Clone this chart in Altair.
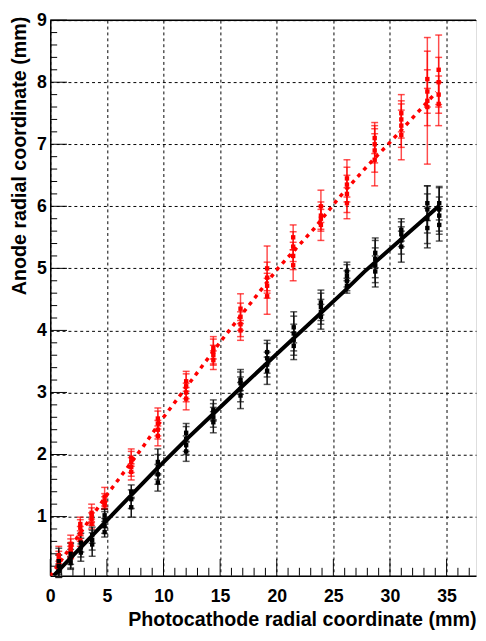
import altair as alt
import pandas as pd

# ---- data ----
# cluster positions (photocathode radial coordinate, mm)
red_cx = [0.75, 1.8, 2.65, 3.65, 4.8, 7.15, 9.5, 12.0, 14.4, 16.8, 19.15, 21.45, 23.9, 26.2, 28.65, 31.0, 33.3, 34.3]
red_y = [
    [0.22, 0.32, 0.38, 0.28], [0.42, 0.50, 0.56, 0.46], [0.62, 0.72, 0.82, 0.88], [0.88, 0.96, 1.02, 1.06],
    [1.18, 1.25, 1.32, 1.22], [1.72, 1.80, 1.88, 1.95], [2.30, 2.40, 2.50, 2.58], [2.90, 3.00, 3.10, 3.18],
    [3.52, 3.60, 3.66, 3.72], [4.00, 4.10, 4.22, 4.35], [4.55, 4.72, 4.85, 5.00], [5.05, 5.20, 5.35, 5.50],
    [5.70, 5.80, 5.85, 6.00], [6.05, 6.20, 6.35, 6.45], [6.75, 6.90, 7.00, 7.10], [7.15, 7.30, 7.40, 7.50],
    [7.60, 7.70, 7.85, 8.05], [7.65, 7.80, 8.00, 8.20],
]
red_err = [
    [0.06, 0.12, 0.14, 0.10], [0.10, 0.14, 0.14, 0.12], [0.10, 0.12, 0.13, 0.11], [0.08, 0.10, 0.12, 0.14],
    [0.06, 0.12, 0.15, 0.10], [0.13, 0.15, 0.17, 0.14], [0.16, 0.15, 0.20, 0.17], [0.18, 0.15, 0.20, 0.16],
    [0.15, 0.16, 0.20, 0.18], [0.16, 0.20, 0.22, 0.24], [0.29, 0.20, 0.25, 0.36], [0.25, 0.22, 0.24, 0.20],
    [0.25, 0.20, 0.22, 0.26], [0.25, 0.30, 0.28, 0.30], [0.42, 0.35, 0.30, 0.25], [0.40, 0.35, 0.30, 0.30],
    [0.30, 1.02, 0.35, 0.45], [0.35, 0.30, 0.40, 0.56],
]
blk_cx = [0.75, 1.8, 2.7, 3.7, 4.8, 7.15, 9.5, 12.0, 14.4, 16.8, 19.15, 21.5, 23.9, 26.2, 28.7, 31.0, 33.3, 34.35]
blk_y = [
    [0.12, 0.20, 0.28], [0.25, 0.32, 0.40], [0.42, 0.50, 0.58], [0.55, 0.62, 0.70],
    [0.75, 0.85, 0.95, 1.02], [1.15, 1.28, 1.40], [1.55, 1.68, 1.80, 1.88], [2.05, 2.15, 2.25, 2.35],
    [2.52, 2.60, 2.68, 2.72], [2.95, 3.05, 3.15, 3.20], [3.35, 3.45, 3.55, 3.65], [3.75, 3.85, 3.95, 4.05],
    [4.22, 4.30, 4.38, 4.45], [4.72, 4.80, 4.88, 4.95], [4.95, 5.05, 5.15, 5.25], [5.35, 5.45, 5.55, 5.62],
    [5.65, 5.80, 5.95, 6.05], [5.70, 5.85, 5.95, 6.05],
]
blk_err = [
    [0.10, 0.18, 0.21], [0.10, 0.15, 0.17], [0.14, 0.15, 0.15], [0.19, 0.16, 0.13],
    [0.08, 0.12, 0.13, 0.10], [0.16, 0.15, 0.11], [0.14, 0.16, 0.20, 0.21], [0.16, 0.15, 0.20, 0.15],
    [0.17, 0.16, 0.14, 0.16], [0.21, 0.20, 0.18, 0.17], [0.22, 0.20, 0.24, 0.19], [0.22, 0.25, 0.28, 0.25],
    [0.20, 0.20, 0.22, 0.20], [0.12, 0.16, 0.18, 0.15], [0.25, 0.28, 0.30, 0.24], [0.25, 0.22, 0.20, 0.18],
    [0.32, 0.40, 0.38, 0.28], [0.26, 0.30, 0.35, 0.27],
]
# fitted curves
red_fit_x = [0.0, 5.0, 8.13, 10.0, 12.9, 15.25, 20.1, 23.35, 25.5, 28.0, 30.0, 34.1]
red_fit_y = [0.04, 1.35, 2.11, 2.60, 3.30, 3.87, 5.00, 5.65, 6.14, 6.65, 7.03, 7.84]
blk_fit_x = [0.3, 5.0, 9.29, 12.0, 16.84, 20.0, 25.95, 27.7, 34.35]
blk_fit_y = [0.05, 0.94, 1.75, 2.24, 3.08, 3.62, 4.63, 4.94, 6.01]

x_major = [0, 5, 10, 15, 20, 25, 30, 35]
y_major = [1, 2, 3, 4, 5, 6, 7, 8, 9]
x_minor = [v for v in range(1, 38) if v % 5 != 0]
y_minor = [round(v * 0.2, 1) for v in range(1, 45) if v % 5 != 0]

# ---- tables ----
rows = []
for name, cx, ys, es in [("red", red_cx, red_y, red_err), ("black", blk_cx, blk_y, blk_err)]:
    for c, yl, el in zip(cx, ys, es):
        for yv, ev in zip(yl, el):
            rows.append({"s": name, "x": c, "y": yv, "lo": yv - ev, "hi": yv + ev})
pts = pd.DataFrame(rows)
red_pts = pts[pts.s == "red"]
blk_pts = pts[pts.s == "black"]
red_fit = pd.DataFrame({"x": red_fit_x, "y": red_fit_y})
blk_fit = pd.DataFrame({"x": blk_fit_x, "y": blk_fit_y})

W, H = 433, 565
FONT = "Liberation Sans"
xs = alt.Scale(domain=[0, 37.6], nice=False, zero=False)
ys_ = alt.Scale(domain=[0.047, 9], nice=False, zero=False)

xaxis = alt.Axis(values=x_major, grid=True, gridDash=[3, 3], gridColor="#000", gridWidth=1,
                 ticks=False, domainColor="#000", domainWidth=1.5, labelFont=FONT,
                 labelFontWeight="bold", labelFontSize=18, labelColor="#000", labelPadding=12,
                 labelFlush=False, title="Photocathode radial coordinate (mm)", titleFont=FONT,
                 titleFontSize=20, titleFontWeight="bold", titleColor="#000", titleAnchor="end",
                 titleAlign="right", titleBaseline="alphabetic", titleX=W, titleY=51)
yaxis = alt.Axis(values=y_major, grid=True, gridDash=[3, 3], gridColor="#000", gridWidth=1,
                 ticks=False, domainColor="#000", domainWidth=1.5, labelFont=FONT,
                 labelFontWeight="bold", labelFontSize=18, labelColor="#000", labelPadding=4,
                 title="Anode radial coordinate (mm)", titleFont=FONT, titleFontSize=20,
                 titleFontWeight="bold", titleColor="#000", titleAnchor="end", titleAlign="right",
                 titleAngle=-90, titleBaseline="alphabetic", titleX=-25, titleY=-4)


def X(f):
    return alt.X(f, type="quantitative", scale=xs, axis=xaxis)


def Y(f):
    return alt.Y(f, type="quantitative", scale=ys_, axis=yaxis)


red_bars = alt.Chart(red_pts).mark_rule(color="#ff0000", strokeWidth=1.5, opacity=0.7).encode(
    x=X("x"), y=Y("lo"), y2="hi")
red_cap_lo = alt.Chart(red_pts).mark_tick(color="#ff0000", orient="horizontal", size=7,
                                          thickness=1.5, opacity=0.7).encode(x=X("x"), y=Y("lo"))
red_cap_hi = alt.Chart(red_pts).mark_tick(color="#ff0000", orient="horizontal", size=7,
                                          thickness=1.5, opacity=0.7).encode(x=X("x"), y=Y("hi"))
blk_bars = alt.Chart(blk_pts).mark_rule(color="#111", strokeWidth=1.5).encode(
    x=X("x"), y=Y("lo"), y2="hi")
blk_cap_lo = alt.Chart(blk_pts).mark_tick(color="#111", orient="horizontal", size=7,
                                          thickness=1.5).encode(x=X("x"), y=Y("lo"))
blk_cap_hi = alt.Chart(blk_pts).mark_tick(color="#111", orient="horizontal", size=7,
                                          thickness=1.5).encode(x=X("x"), y=Y("hi"))
red_marks = alt.Chart(red_pts).mark_square(color="#ff0000", size=20, opacity=1).encode(
    x=X("x"), y=Y("y"))
blk_marks = alt.Chart(blk_pts).mark_square(color="#000", size=20, opacity=1).encode(
    x=X("x"), y=Y("y"))
red_line = alt.Chart(red_fit).mark_line(color="#ff0000", strokeWidth=3.5, strokeDash=[4, 5],
                                        clip=True).encode(x=X("x"), y=Y("y"))
blk_line = alt.Chart(blk_fit).mark_line(color="#000", strokeWidth=4, clip=True).encode(
    x=X("x"), y=Y("y"))

xt_major = alt.Chart(pd.DataFrame({"t": x_major})).mark_rule(color="#000", strokeWidth=1).encode(
    x=X("t"), y=alt.value(H), y2=alt.value(H - 17))
xt_minor = alt.Chart(pd.DataFrame({"t": x_minor})).mark_rule(color="#000", strokeWidth=1).encode(
    x=X("t"), y=alt.value(H), y2=alt.value(H - 8))
yt_major = alt.Chart(pd.DataFrame({"t": y_major})).mark_rule(color="#000", strokeWidth=1).encode(
    y=Y("t"), x=alt.value(0), x2=alt.value(17))
yt_minor = alt.Chart(pd.DataFrame({"t": y_minor})).mark_rule(color="#000", strokeWidth=1).encode(
    y=Y("t"), x=alt.value(0), x2=alt.value(7))
frame_top = alt.Chart(pd.DataFrame({"t": [9]})).mark_rule(color="#000", strokeWidth=1.5).encode(
    y=Y("t"), x=alt.value(0), x2=alt.value(W))

chart = alt.layer(
    xt_major, xt_minor, yt_major, yt_minor, frame_top,
    red_bars, red_cap_lo, red_cap_hi, blk_bars, blk_cap_lo, blk_cap_hi,
    red_line, blk_line, red_marks, blk_marks,
).properties(
    width=W, height=H,
    autosize=alt.AutoSizeParams(type="none"),
    padding={"left": 43, "top": 7, "right": 2, "bottom": 58},
).configure_view(stroke=None).configure(background="white")

chart.save("out.html", embed_options={"renderer": "svg", "actions": False})
